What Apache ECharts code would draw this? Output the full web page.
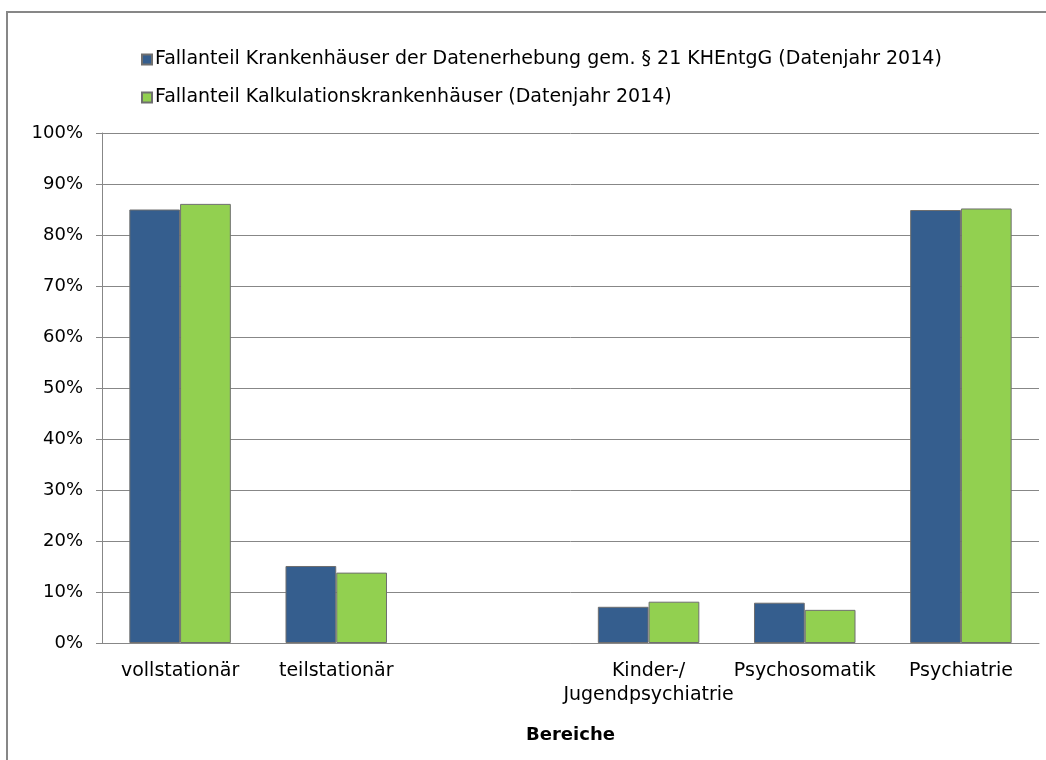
<!DOCTYPE html>
<html>
<head>
<meta charset="utf-8">
<script src="https://cdn.jsdelivr.net/npm/echarts@6/dist/echarts.min.js"></script>
<style>
  html, body { margin: 0; padding: 0; background: #fff; }
  #chart { width: 1046px; height: 760px; }
</style>
</head>
<body>
<div id="chart"></div>
<script>
// categories (third slot is empty in the original)
const categories = ['vollstationär', 'teilstationär', '', 'Kinder-/\nJugendpsychiatrie', 'Psychosomatik', 'Psychiatrie'];
const seriesNames = [
  'Fallanteil Krankenhäuser der Datenerhebung gem. § 21 KHEntgG (Datenjahr 2014)',
  'Fallanteil Kalkulationskrankenhäuser (Datenjahr 2014)'
];
const datenerhebung = [0.850, 0.151, null, 0.071, 0.079, 0.849];
const kalkulation = [0.861, 0.138, null, 0.081, 0.065, 0.852];

const font = 'DejaVu Sans, Liberation Sans, sans-serif';
const gridColor = '#878787';

let chart = echarts.init(document.getElementById('chart'));
let option = {
  animation: false,
  textStyle: { fontFamily: font },
  graphic: [{
    type: 'rect',
    shape: { x: 7, y: 12, width: 1100, height: 800 },
    style: { fill: 'none', stroke: '#878787', lineWidth: 2 },
    silent: true
  }],
  legend: {
    orient: 'vertical',
    left: 136,
    top: 45,
    itemWidth: 10,
    itemHeight: 10,
    itemGap: 19,
    icon: 'rect',
    textStyle: { fontSize: 19, color: '#000', fontFamily: font, padding: [0, 0, 0, -2] },
    data: seriesNames
  },
  grid: { left: 102, right: 7, top: 133, bottom: 117 },
  xAxis: {
    type: 'category',
    data: categories,
    axisLine: { lineStyle: { color: gridColor } },
    axisTick: { length: 7, lineStyle: { color: gridColor } },
    axisLabel: { interval: 0, fontSize: 19, color: '#000', margin: 16, lineHeight: 24 },
    name: 'Bereiche',
    nameLocation: 'middle',
    nameGap: 83,
    nameTextStyle: { fontSize: 18, fontWeight: 'bold', color: '#000' }
  },
  yAxis: {
    type: 'value',
    min: 0,
    max: 1,
    interval: 0.1,
    axisLine: { show: true, lineStyle: { color: gridColor } },
    axisTick: { show: true, length: 6, lineStyle: { color: gridColor } },
    splitLine: { lineStyle: { color: gridColor } },
    axisLabel: {
      fontSize: 18, color: '#000', margin: 19,
      formatter: v => Math.round(v * 100) + '%'
    }
  },
  series: [
    {
      name: seriesNames[0],
      type: 'bar',
      data: datenerhebung,
      barGap: '0%',
      barCategoryGap: '35%',
      itemStyle: { color: '#355e8e', borderColor: '#6f6f6f', borderWidth: 1 }
    },
    {
      name: seriesNames[1],
      type: 'bar',
      data: kalkulation,
      itemStyle: { color: '#92d050', borderColor: '#6f6f6f', borderWidth: 1 }
    }
  ]
};
chart.setOption(option);
</script>
</body>
</html>
